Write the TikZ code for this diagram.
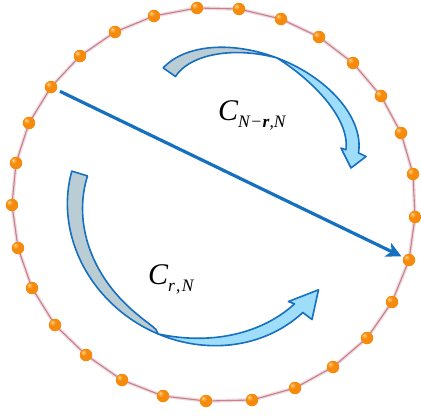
\documentclass[tikz,border=0pt]{standalone}
\usepackage{fontspec}
\newfontfamily\tms{Liberation Serif}
\usetikzlibrary{arrows.meta}
\definecolor{arrowblue}{RGB}{22,112,192}
\definecolor{ribgrey}{RGB}{186,204,212}
\definecolor{ribcyan}{RGB}{158,222,250}
\definecolor{beadlight}{RGB}{255,214,130}
\definecolor{beadorange}{RGB}{246,138,12}
\definecolor{beaddark}{RGB}{196,92,0}
\definecolor{ringpale}{RGB}{240,218,222}
\definecolor{ringline}{RGB}{198,128,142}
\pgfdeclareradialshading{beadshade}{\pgfpoint{-12bp}{12bp}}{color(0bp)=(beadlight); color(12bp)=(beadorange); color(34bp)=(beadorange); color(52bp)=(beaddark); color(70bp)=(beaddark)}
\begin{document}
\begin{tikzpicture}[x=1pt,y=-1pt,
  declare function={
    upx(\t,\w)=255.5+(108.4-\w)*cos(\t)*0.927+(67-\w)*sin(\t)*0.374;
    upy(\t,\w)=121.4+(108.4-\w)*cos(\t)*0.374-(67-\w)*sin(\t)*0.927;
    lox(\t,\w)=203.7+(139.7-\w)*cos(\t)*0.848-(127-\w)*sin(\t)*0.531;
    loy(\t,\w)=214.9+(139.7-\w)*cos(\t)*0.531+(127-\w)*sin(\t)*0.848;
    ugw(\t)=15*(\t-92)/75;
    ucw(\t)=13*(1-pow(max((\t-8)/84,0.00001),2.5));
    lgw(\t)=16.5*pow(max((\t-80)/86,0.00001),0.4);
    lcw(\t)=12*(1-pow(max((\t-13.7)/66.3,0.00001),2.5));
  },
  bead/.style={circle,inner sep=0pt,minimum size=12.5pt,shade,shading=beadshade,draw=none},
  ribbon/.style={draw=arrowblue,line width=1.6pt,line join=round},
  mainarrow/.style={draw=arrowblue,line width=3.2pt,shorten <=3.5pt,shorten >=2pt,
     -{Stealth[length=15pt,width=15pt,inset=4pt]}},
  lbl/.style={inner sep=0pt,anchor=base west,font=\tms\itshape\fontsize{30}{30}\selectfont}]
\useasboundingbox (0,0) rectangle (421,416);
\fill[white] (0,0) rectangle (421,416);
% ring coordinates
\foreach \i/\x/\y in {1/12/205,2/18/248,3/32/288,4/55/325,5/86/355,6/122/380,7/163/396,
  8/206/401,9/252/400,10/295/388,11/333/367,12/367/338,13/392/302,14/409/260,15/415/217,
  16/413/174,17/401/133,18/381/96,19/353/63,20/319/37,21/281/19,22/239/9,23/197/8,
  24/154/16,25/115/32,26/80/56,27/51/87,28/29/123,29/16/163}
  \coordinate (c\i) at (\x,\y);
\draw[ringpale,line width=3.6pt,line join=round] (c1) \foreach \i in {2,...,29}{ -- (c\i)} -- cycle;
\draw[ringline,line width=1.1pt,line join=round] (c1) \foreach \i in {2,...,29}{ -- (c\i)} -- cycle;
\foreach \i in {1,...,29} \node[bead] (b\i) at (c\i) {};
% upper curved arrow
\filldraw[ribbon,fill=ribgrey]
  plot[variable=\t,domain=167:92,samples=50] ({upx(\t,0)},{upy(\t,0)})
  -- plot[variable=\t,domain=92:167,samples=50] ({upx(\t,ugw(\t))},{upy(\t,ugw(\t))})
  -- cycle;
\filldraw[ribbon,fill=ribcyan]
  plot[variable=\t,domain=92:8,samples=60] ({upx(\t,0)},{upy(\t,0)})
  -- (366,156.5) -- (351,168) -- (341,148)
  -- plot[variable=\t,domain=8:92,samples=60] ({upx(\t,ucw(\t))},{upy(\t,ucw(\t))})
  -- cycle;
% lower curved arrow
\filldraw[ribbon,fill=ribgrey]
  plot[variable=\t,domain=165:80,samples=60] ({lox(\t,0)},{loy(\t,0)})
  -- plot[variable=\t,domain=80:165,samples=60] ({lox(\t,lgw(\t))},{loy(\t,lgw(\t))})
  -- cycle;
\filldraw[ribbon,fill=ribcyan]
  plot[variable=\t,domain=80:13.7,samples=60] ({lox(\t,0)},{loy(\t,0)})
  -- (312,319.5) -- (318.5,289.8) -- (288.5,301.5)
  -- plot[variable=\t,domain=13.7:80,samples=60] ({lox(\t,lcw(\t))},{loy(\t,lcw(\t))})
  -- cycle;
% straight arrow
\draw[mainarrow] (b27) -- (b14);
% labels
\node[lbl] (l1) at (218,120) {C\raisebox{-7pt}{\fontsize{17.5}{17.5}\selectfont N\kern0.5pt−\kern0.5pt\textbf{r},N}};
\node[lbl] (l2) at (148,284) {C\raisebox{-7pt}{\fontsize{17.5}{17.5}\selectfont r\kern1pt,\kern1.5pt N}};
\end{tikzpicture}
\end{document}
